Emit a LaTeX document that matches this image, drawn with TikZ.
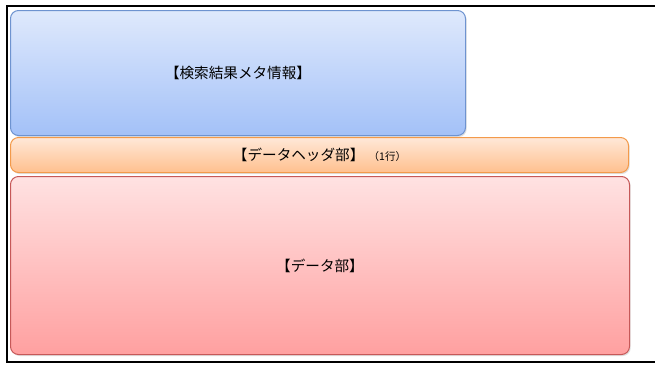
\documentclass[tikz,border=0pt]{standalone}
\usepackage{fontspec}
\setmainfont{Noto Sans CJK JP}
\usepackage{tikz}
\usetikzlibrary{shadows}

\definecolor{metaTop}{HTML}{DFE9FC}
\definecolor{metaBot}{HTML}{A3C1F8}
\definecolor{metaLine}{HTML}{6E93D0}
\definecolor{headTop}{HTML}{FFE8D8}
\definecolor{headBot}{HTML}{FFC08E}
\definecolor{headLine}{HTML}{F39A4A}
\definecolor{dataTop}{HTML}{FFE2E2}
\definecolor{dataBot}{HTML}{FFA0A0}
\definecolor{dataLine}{HTML}{C65858}

\begin{document}
\begin{tikzpicture}[x=1pt, y=-1pt, font=\fontsize{14.6}{17}\selectfont,
  blk/.style 2 args={draw=#1Line, line width=1pt, rounded corners=8pt,
    top color=#1Top, bottom color=#1Bot, anchor=north west, inner sep=0pt,
    minimum width=#2, drop shadow={opacity=0.25, shadow xshift=1.2pt, shadow yshift=-1.5pt}},
  frm/.style={line width=2.5pt, black}]
\useasboundingbox (0,0) rectangle (655,365);
% outer frame (open on the right)
\draw[frm] (655,6) -- (7,6) -- (7,362) -- (655,362);
% blocks
\node[blk={meta}{455pt}, minimum height=125pt] (meta) at (10,10) {【検索結果メタ情報】};
\node[blk={head}{618pt}, minimum height=35pt] (head) at (10,137) {【データヘッダ部】\hspace{0.3em}{\fontsize{10.5}{12}\selectfont （1行）}};
\node[blk={data}{619pt}, minimum height=178pt] (data) at (10,176) {【データ部】};
\end{tikzpicture}
\end{document}
